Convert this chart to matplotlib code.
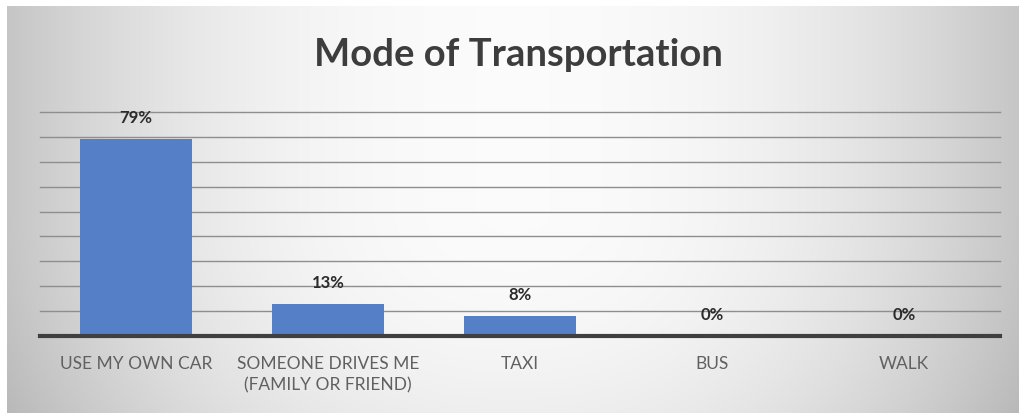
import numpy as np
import matplotlib
matplotlib.use('Agg')
import matplotlib.pyplot as plt

plt.rcParams['font.family'] = ['Lato', 'DejaVu Sans']

categories = ['USE MY OWN CAR', 'SOMEONE DRIVES ME\n(FAMILY OR FRIEND)', 'TAXI', 'BUS', 'WALK']
shares = [79, 13, 8, 0, 0]
value_labels = ['79%', '13%', '8%', '0%', '0%']
grid_levels = [10, 20, 30, 40, 50, 60, 70, 80, 90]

W, H = 1019, 414
fig = plt.figure(figsize=(W / 100, H / 100), dpi=100)
fig.patch.set_facecolor('white')

# soft gray backdrop, white in the middle and darker toward the sides
bg = fig.add_axes([7 / W, 0, 1 - 7 / W, 1 - 7 / H])
gx, gy = np.meshgrid(np.linspace(-1, 1, 600), np.linspace(1, -1, 250))
shade = 0.985 - 0.21 * np.abs(gx) ** 2.2 - 0.05 * np.clip(-gy, 0, None) ** 2
bg.imshow(np.dstack([shade] * 3), aspect='auto', extent=[0, 1, 0, 1])
bg.axis('off')

ax = fig.add_axes([40 / W, 1 - 337 / H, 960 / W, 224 / H])
ax.patch.set_alpha(0)
x = np.arange(len(categories))
for lvl in grid_levels:
    ax.axhline(lvl, color='#8e8e8e', lw=1, zorder=1, clip_on=False)
bars = ax.bar(x, shares, width=0.58, color='#5580c8', zorder=2)
ax.axhline(0, color='#3f3f3f', lw=3, zorder=3, clip_on=False)

for xi, v, lab in zip(x, shares, value_labels):
    ax.annotate(lab, (xi, v), xytext=(0, 10), textcoords='offset points',
                ha='center', va='bottom', fontsize=12, fontweight='bold', color='#2b2b2b')

ax.set_xlim(-0.5, len(categories) - 0.5)
ax.set_ylim(0, 90)
ax.set_yticks([])
ax.set_xticks(x, categories, fontsize=12.5, color='#606060', linespacing=1.35)
ax.tick_params(axis='x', length=0, pad=14)
for s in ax.spines.values():
    s.set_visible(False)

fig.text(518 / W, 1 - 55 / H, 'Mode of Transportation', ha='center', va='center',
         fontsize=27.5, fontweight='bold', color='#3d3d3d')

fig.savefig('out.png', dpi=100)
